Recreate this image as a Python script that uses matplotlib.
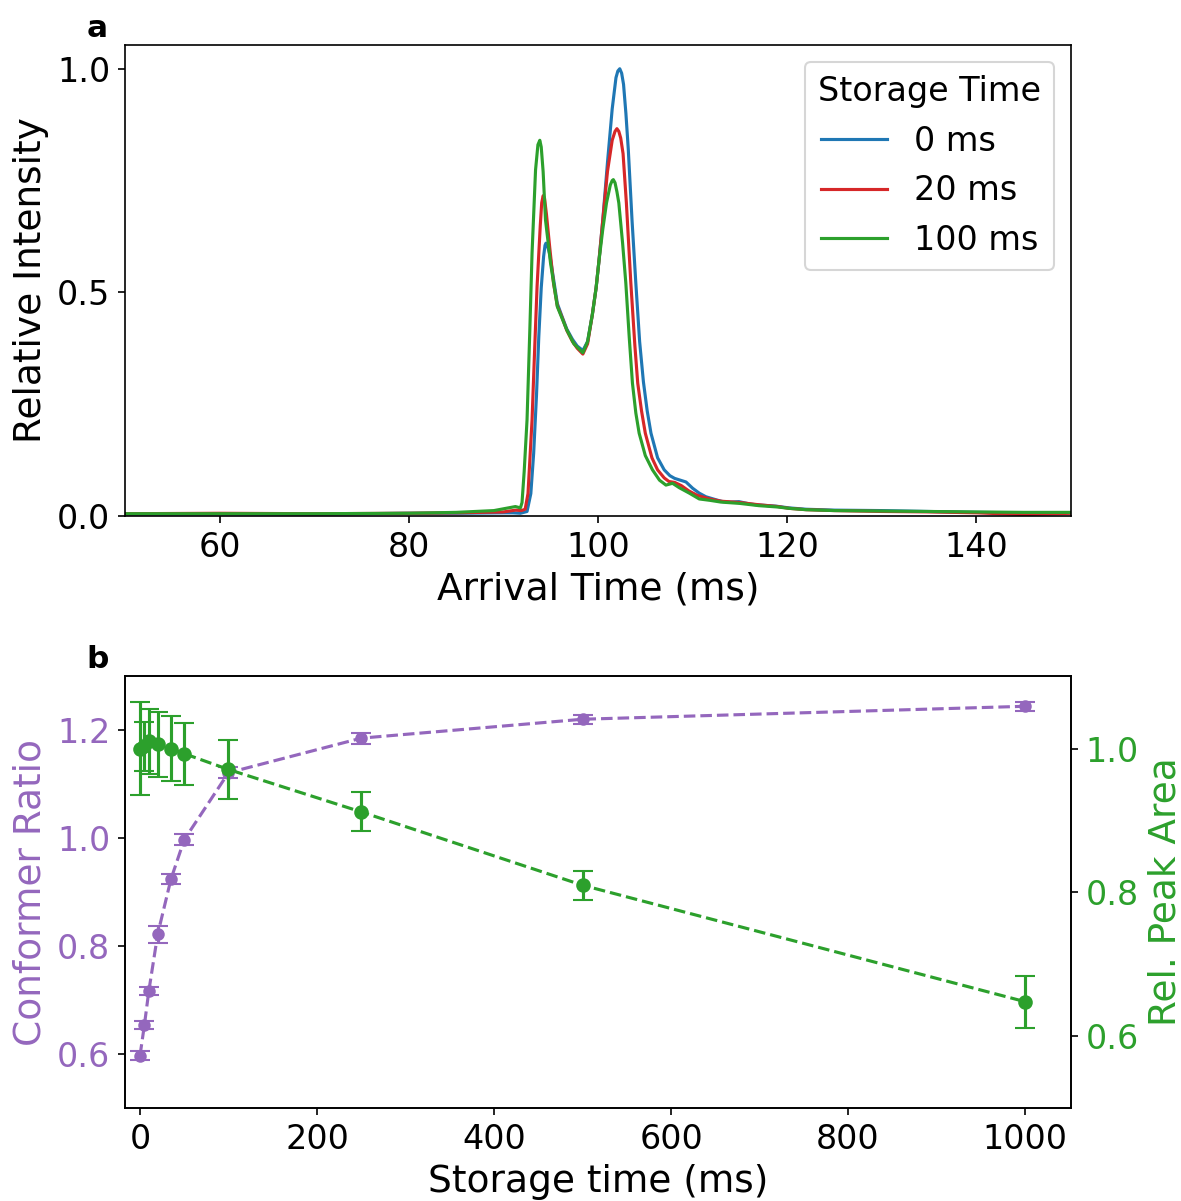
import numpy as np
import matplotlib.pyplot as plt

# panel a: arrival time distributions
t_0 = [50, 60, 70, 80, 85, 90, 91, 91.8, 92.5, 92.9, 93.2, 93.5, 93.74, 94.0, 94.25, 94.4,
       94.5, 94.65, 94.9, 95.3, 95.7, 96.2, 96.7, 97.3, 97.8, 98.4, 98.9, 99.4, 99.8, 100.1,
       100.5, 101.0, 101.5, 101.9, 102.1, 102.3, 102.5, 102.7, 102.95, 103.2, 103.6, 104.0,
       104.4, 104.8, 105.2, 105.6, 106.3, 107.0, 107.6, 108.1, 108.7, 109.3, 110.0, 110.7,
       111.4, 112.5, 113.2, 114.0, 114.9, 116.0, 116.7, 118.8, 120.2, 122, 125, 130, 135,
       140, 145, 150]
y_0 = [0.004, 0.005, 0.004, 0.006, 0.006, 0.007, 0.007, 0.006, 0.01, 0.05, 0.14, 0.27, 0.40,
       0.51, 0.58, 0.605, 0.61, 0.605, 0.585, 0.53, 0.475, 0.446, 0.418, 0.395, 0.38, 0.37,
       0.39, 0.45, 0.51, 0.57, 0.66, 0.79, 0.91, 0.98, 0.995, 1.0, 0.99, 0.965, 0.90, 0.82,
       0.66, 0.52, 0.39, 0.30, 0.235, 0.185, 0.13, 0.103, 0.09, 0.084, 0.08, 0.076, 0.062,
       0.051, 0.043, 0.036, 0.032, 0.031, 0.032, 0.027, 0.025, 0.022, 0.018, 0.015, 0.013,
       0.012, 0.01, 0.008, 0.007, 0.007]

t_20 = [50, 60, 70, 80, 85, 90, 91.3, 91.9, 92.3, 92.6, 93.03, 93.3, 93.56, 93.9, 94.05,
        94.2, 94.35, 94.55, 94.9, 95.3, 95.7, 96.2, 96.7, 97.3, 97.8, 98.4, 98.9, 99.4, 99.8,
        100.1, 100.5, 101.0, 101.5, 101.8, 102.0, 102.2, 102.4, 102.65, 103.0, 103.47, 103.9,
        104.2, 104.6, 105.0, 105.7, 106.3, 107.0, 107.5, 108.1, 108.8, 109.6, 110.5, 111.8,
        113, 115, 117, 119, 120.2, 122, 125, 130, 135, 140, 145, 150]
y_20 = [0.005, 0.006, 0.005, 0.006, 0.007, 0.009, 0.013, 0.012, 0.015, 0.05, 0.215, 0.37,
        0.513, 0.65, 0.70, 0.716, 0.71, 0.675, 0.60, 0.52, 0.47, 0.444, 0.415, 0.39, 0.375,
        0.362, 0.385, 0.45, 0.51, 0.57, 0.66, 0.77, 0.84, 0.86, 0.866, 0.86, 0.845, 0.81,
        0.70, 0.521, 0.38, 0.297, 0.235, 0.185, 0.13, 0.103, 0.085, 0.077, 0.075, 0.068,
        0.056, 0.046, 0.038, 0.033, 0.03, 0.025, 0.021, 0.017, 0.014, 0.012, 0.01, 0.009,
        0.007, 0.003, 0.006]

t_100 = [50, 60, 70, 80, 85, 89, 91.27, 91.8, 91.97, 92.2, 92.5, 92.8, 93.03, 93.4, 93.65,
         93.85, 94.0, 94.2, 94.45, 94.98, 95.7, 96.7, 97.45, 98.4, 98.9, 99.4, 99.8, 100.1,
         100.5, 100.9, 101.3, 101.5, 101.62, 101.8, 102.0, 102.2, 102.6, 102.94, 103.3,
         103.64, 104.0, 104.35, 105.0, 105.76, 106.5, 107.18, 107.88, 108.6, 109.65, 110.7,
         111.8, 113, 115, 117, 119, 120.2, 122, 125, 130, 135, 140, 145, 150]
y_100 = [0.005, 0.005, 0.005, 0.006, 0.008, 0.012, 0.021, 0.018, 0.03, 0.10, 0.215, 0.42,
         0.588, 0.774, 0.83, 0.84, 0.825, 0.77, 0.662, 0.566, 0.468, 0.416, 0.385, 0.365,
         0.39, 0.45, 0.51, 0.57, 0.64, 0.70, 0.74, 0.75, 0.752, 0.745, 0.725, 0.70, 0.61,
         0.521, 0.40, 0.297, 0.23, 0.185, 0.135, 0.103, 0.08, 0.069, 0.073, 0.063, 0.051,
         0.038, 0.035, 0.031, 0.028, 0.023, 0.02, 0.017, 0.014, 0.012, 0.011, 0.01, 0.009,
         0.008, 0.008]

# panel b: storage time series
storage = [0, 5, 10, 20, 35, 50, 100, 250, 500, 1000]
ratio = [0.597, 0.654, 0.717, 0.822, 0.924, 0.997, 1.121, 1.185, 1.220, 1.244]
ratio_err = [0.008, 0.008, 0.008, 0.016, 0.01, 0.01, 0.01, 0.01, 0.008, 0.008]
area = [1.0, 1.003, 1.01, 1.006, 1.0, 0.993, 0.971, 0.912, 0.810, 0.648]
area_err = [0.065, 0.034, 0.045, 0.045, 0.045, 0.043, 0.041, 0.027, 0.02, 0.036]

TICK = 16
LABEL = 18
plt.rcParams['font.size'] = TICK
plt.rcParams['xtick.labelsize'] = TICK
plt.rcParams['ytick.labelsize'] = TICK
plt.rcParams['axes.labelsize'] = LABEL

fig = plt.figure(figsize=(1181/150, 1201/150), dpi=150)

# ---- a ----
ax1 = fig.add_axes([0.1058, 0.5704, 0.8011, 0.3921])
ax1.plot(t_0, y_0, color='tab:blue', label='0 ms')
ax1.plot(t_20, y_20, color='tab:red', label='20 ms')
ax1.plot(t_100, y_100, color='tab:green', label='100 ms')
ax1.set_xlim(50, 150)
ax1.set_ylim(0, 1.053)
ax1.set_yticks([0.0, 0.5, 1.0])
ax1.set_xlabel('Arrival Time (ms)')
ax1.set_ylabel('Relative Intensity')
ax1.legend(title='Storage Time', loc='upper right', title_fontsize=16, fontsize=16)
ax1.text(-0.029, 1.005, 'a', transform=ax1.transAxes, fontsize=15,
         fontweight='bold', ha='center', va='bottom')

# ---- b ----
ax2 = fig.add_axes([0.1058, 0.0774, 0.8011, 0.3597])
ax2.errorbar(storage, ratio, yerr=ratio_err, fmt='o--', color='tab:purple',
             ms=5, capsize=5)
ax2.set_xlim(-17, 1052)
ax2.set_ylim(0.5, 1.3)
ax2.set_yticks([0.6, 0.8, 1.0, 1.2])
ax2.set_xlabel('Storage time (ms)')
ax2.set_ylabel('Conformer Ratio', color='tab:purple')
ax2.tick_params(axis='y', labelcolor='tab:purple')

ax3 = ax2.twinx()
ax3.errorbar(storage, area, yerr=area_err, fmt='o--', color='tab:green',
             ms=6, capsize=5)
ax3.set_ylim(0.5, 1.101)
ax3.set_yticks([0.6, 0.8, 1.0])
ax3.set_ylabel('Rel. Peak Area', color='tab:green')
ax3.tick_params(axis='y', labelcolor='tab:green')
ax2.text(-0.029, 1.005, 'b', transform=ax2.transAxes, fontsize=15,
         fontweight='bold', ha='center', va='bottom')

fig.savefig('out.png', dpi=150)
